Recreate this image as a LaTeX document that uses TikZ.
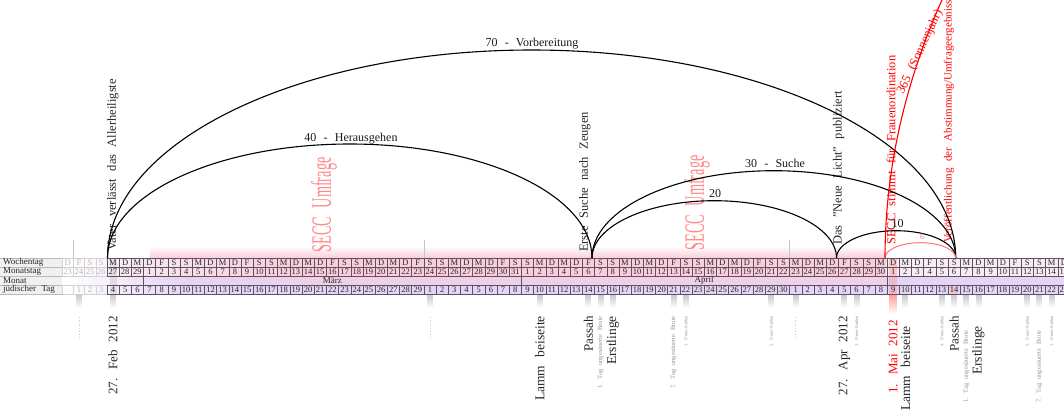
\documentclass[tikz,border=0pt]{standalone}
\usepackage{fontspec}
\setmainfont{Liberation Serif}
\usetikzlibrary{fadings}
\newcommand\myfs[1]{\fontsize{#1}{#1}\selectfont\spaceskip=0.6em plus 0.1em\relax}
\definecolor{lav}{RGB}{228,212,245}
\definecolor{lpink}{RGB}{247,236,244}
\definecolor{pnk}{RGB}{249,205,218}
\definecolor{cellline}{RGB}{95,80,100}
\begin{document}
\begin{tikzpicture}[x=1pt,y=-1pt,
  cellbox/.style={line width=0.35pt, inner sep=0pt, minimum height=9pt, font=\myfs{8.5}},
  rowlabel/.style={anchor=west, inner sep=0pt, font=\myfs{9}, text=black!85},
  monthlabel/.style={inner sep=0pt, font=\myfs{9}, text=black!85},
  bigarc/.style={line width=1.1pt, black},
  redarc/.style={line width=1.1pt, red},
  fadearc/.style={line width=1pt, red!55},
  arclabel/.style={font=\myfs{12}, inner sep=1pt, text=black!90},
  eventtext/.style={rotate=90, anchor=west, inner sep=0pt, font=\myfs{12.5}, text=black!85},
  redtext/.style={rotate=90, anchor=west, inner sep=0pt, font=\myfs{12.5}, text=red},
  datelabel/.style={rotate=90, anchor=east, inner sep=0pt, font=\myfs{13}, text=black!85},
  smalllabel/.style={rotate=90, anchor=east, inner sep=0pt, font=\myfs{6.5}, text=gray!85},
  tinylabel/.style={rotate=90, anchor=east, inner sep=0pt, font=\myfs{4.5}, text=gray!85},
  survey/.style={rotate=90, inner sep=0pt, font=\myfs{28}, text=red!55, opacity=0.85},
  shadowbar/.style={fill=gray!45, path fading=south},
  rcline/.style={gray!45, line width=0.4pt},
]
\useasboundingbox (0,0) rectangle (1064,410);
\clip (0,0) rectangle (1064,410);

% ---------- backgrounds of the calendar strip
\fill[gray!12] (0,258) rectangle (62,294);
\shade[left color=white, right color=lpink] (62,258) rectangle (140,276);
\fill[lpink] (140,258) rectangle (1064,276);
\shade[left color=white, right color=lav] (62,276) rectangle (190,294);
\fill[lav] (190,276) rectangle (1064,294);
\fill[pnk, path fading=west] (110,258) rectangle (300,280);
\fill[pnk] (300,258) rectangle (886,276);
\fill[pnk, opacity=0.5] (300,276) rectangle (886,285);
\fill[pnk, path fading=north] (150,246) rectangle (886,258);
% May 1 / May 6 highlight
\fill[red!40, opacity=0.45] (889,258) rectangle (897,294);
\fill[red!40, path fading=south] (889,294) rectangle (897,314);
\fill[red!30, opacity=0.45] (950,285) rectangle (958,294);
% Feb 27 highlight
\fill[gray!40, opacity=0.5] (110,258) rectangle (117,294);

% ---------- shadow bars under marked days
\foreach \xx in {78.9,113.0,429.9,539.7,588.4,600.6,612.8,673.7,685.9,771.3,795.6,844.4,856.6,905.4,941.9,954.1,966.3,978.5,1027.3,1039.4,1051.6}
  \fill[shadowbar] (\xx-3,294) rectangle (\xx+3,308);

% ---------- row labels
\foreach \yy in {258,267,276,285,294}
  \draw[gray!55, line width=0.35pt] (0,\yy) -- (62,\yy);
\node[rowlabel] (lw) at (3,262.5) {Wochentag};
\node[rowlabel] (lm) at (3,271.5) {Monatstag};
\node[rowlabel] (lmo) at (3,280.5) {Monat};
\node[rowlabel] (lj) at (3,289.5) {jüdischer Tag};

% ---------- day cells
\foreach \d in {-4,...,78} {
  \pgfmathsetmacro\cw{\d<0 ? 11.2 : 12.19}
  \pgfmathsetmacro\cx{\d<0 ? 106.9+11.2*\d+5.6 : 106.9+12.19*\d+6.095}
  \pgfmathtruncatemacro\wi{mod(\d+7,7)}
  \pgfmathtruncatemacro\md{\d<3 ? 27+\d : (\d<34 ? \d-2 : (\d<64 ? \d-33 : \d-63))}
  \pgfmathtruncatemacro\jd{\d<26 ? \d+4 : (\d<56 ? \d-25 : \d-55)}
  \ifnum\d<0 \def\bc{gray!35}\def\tc{gray!55}\else\def\bc{cellline}\def\tc{black!85}\fi
  \node[cellbox, draw=\bc, text=\tc, minimum width=\cw pt] (w\d) at (\cx,262.5)
    {\ifcase\wi M\or D\or M\or D\or F\or S\or S\fi};
  \node[cellbox, draw=\bc, text=\tc, minimum width=\cw pt] (m\d) at (\cx,271.5) {\md};
  \node[cellbox, draw=\bc, text=\tc, minimum width=\cw pt] (j\d) at (\cx,289.5) {\ifnum\jd>0 \jd\fi};
}

% ---------- month row
\draw[cellline, line width=0.35pt] (143.47,276) -- (143.47,285);
\draw[cellline, line width=0.35pt] (521.36,276) -- (521.36,285);
\draw[cellline, line width=0.35pt] (887.06,276) -- (887.06,285);
\node[monthlabel] (mar) at (332.4,280.3) {März};
\node[monthlabel] (apr) at (704.2,280.3) {April};

% ---------- Rosh Chodesh marks
\foreach \xx/\xl in {78.9/73.3, 429.9/423.8, 795.6/789.5} {
  \draw[rcline] (\xl,240) -- (\xl,258);
  \draw[gray!40, line width=0.8pt, dotted] (\xx,317) -- (\xx,339);
}

% ---------- survey labels
\node[survey] (su1) at (324,205) {\scalebox{0.51}[1]{SECC Umfrage}};
\node[survey] (su2) at (697,203) {\scalebox{0.51}[1]{SECC Umfrage}};

% ---------- arc foot points
\coordinate (f0) at (107.5,258);
\coordinate (f39) at (592,258);
\coordinate (f59) at (836.5,258);
\coordinate (f69) at (955.7,258);
\coordinate (r64) at (885,258);

% ---------- upper event texts
\node[eventtext] (t0) at (113,251) {Vater verlässt das Allerheiligste};
\node[eventtext] (t39) at (585,252) {Erste Suche nach Zeugen};
\node[eventtext] (t59) at (838.5,245) {Das "Neue Licht" publiziert};
\node[redtext] (t64) at (891,245) {SECC stimmt für Frauenordination};
\node[redtext, font=\myfs{11}] (t69) at (949,243) {Veröffentlichung der Abstimmung/Umfrageergebnisse};

% ---------- arcs
\draw[bigarc] (f0) arc[start angle=180, end angle=0, x radius=424.1pt, y radius=208pt];
\draw[bigarc] (f0) arc[start angle=180, end angle=0, x radius=242.25pt, y radius=114pt];
\draw[bigarc] (f39) arc[start angle=180, end angle=0, x radius=181.85pt, y radius=87.3pt];
\draw[bigarc] (f39) arc[start angle=180, end angle=0, x radius=122.25pt, y radius=57.3pt];
\draw[bigarc] (f59) arc[start angle=180, end angle=0, x radius=59.6pt, y radius=27.3pt];
\draw[fadearc] (r64) arc[start angle=180, end angle=0, x radius=35.35pt, y radius=15.3pt];
\draw[redarc] (r64) arc[start angle=180, end angle=158, x radius=2236pt, y radius=1150pt];

% ---------- arc labels
\node[arclabel] (a70) at (532,44) {70 - Vorbereitung};
\node[arclabel] (a40) at (351,138.5) {40 - Herausgehen};
\node[arclabel] (a30) at (775,163.5) {30 - Suche};
\node[arclabel] (a20) at (715,194) {20};
\node[arclabel] (a10) at (897.5,224) {10};
\node[arclabel, font=\myfs{8}, text=red!55] (a6) at (922,237) {6};
\node[rotate=65, inner sep=0pt, font=\myfs{12.5}, text=red] (a365) at (920,52) {365 (Sonnenjahr)};

% ---------- lower date / feast labels
\node[datelabel] (b0) at (113,316) {27. Feb 2012};
\node[datelabel, font=\myfs{13.5}] (b35) at (539.7,316) {Lamm beiseite};
\node[datelabel] (b39) at (588.4,316) {Passah};
\node[smalllabel] (b40) at (600.6,316) {1. Tag ungesäuerte Brote};
\node[datelabel, font=\myfs{13.5}] (b41) at (612.8,316) {Erstlinge};
\node[smalllabel] (b46) at (673.7,316) {7. Tag ungesäuerte Brote};
\node[tinylabel] (b47) at (685.9,316) {1. Omer-Sabbat};
\node[tinylabel] (b54) at (771.3,316) {2. Omer-Sabbat};
\node[datelabel] (b60) at (844.4,316) {27. Apr 2012};
\node[tinylabel] (b61) at (856.6,316) {3. Omer-Sabbat};
\node[datelabel, text=red] (b64) at (893.2,320) {1. Mai 2012};
\node[datelabel, font=\myfs{13.5}] (b65) at (905.4,326) {Lamm beiseite};
\node[tinylabel] (b68) at (941.9,316) {4. Omer-Sabbat};
\node[datelabel] (b69) at (954.1,316) {Passah};
\node[smalllabel] (b70) at (966.3,330) {1. Tag ungesäuerte Brote};
\node[datelabel, font=\myfs{13.5}] (b71) at (978.5,326) {Erstlinge};
\node[tinylabel] (b75) at (1027.3,316) {5. Omer-Sabbat};
\node[smalllabel] (b76) at (1039.4,330) {7. Tag ungesäuerte Brote};
\node[tinylabel] (b77) at (1051.6,316) {1. Omer-Sabbat};
\end{tikzpicture}
\end{document}
